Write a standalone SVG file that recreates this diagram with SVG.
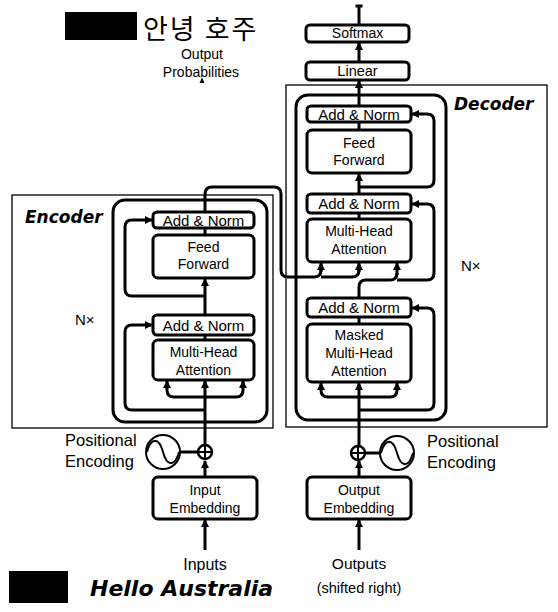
<svg xmlns="http://www.w3.org/2000/svg" width="558" height="612" viewBox="0 0 558 612">
<defs>
<marker id="ah" markerUnits="userSpaceOnUse" markerWidth="8" markerHeight="8" refX="7" refY="4" orient="auto">
<path d="M0,0 L8,4 L0,8 z" fill="#000"/>
</marker>
<style>
.box{fill:#fff;stroke:#000;stroke-width:3}
.frame{fill:none;stroke:#000;stroke-width:1.3}
.stack{fill:none;stroke:#000;stroke-width:3}
.ln{fill:none;stroke:#000;stroke-width:3}
.ar{fill:none;stroke:#000;stroke-width:3;marker-end:url(#ah)}
.t{font-family:"Liberation Sans",Arial,sans-serif;font-size:14px;text-anchor:middle;fill:#000}
.an{font-size:15px}
.lab{font-family:"Liberation Sans",Arial,sans-serif;font-size:16.5px;fill:#000}
.ttl{font-family:"DejaVu Sans",sans-serif;font-weight:bold;font-style:italic;font-size:17px;fill:#000}
.circ{fill:#fff;stroke:#000;stroke-width:2}
</style>
</defs>
<rect width="558" height="612" fill="#fff"/>

<g id="frames">
<rect class="frame" x="12" y="195" width="261" height="233"/>
<rect class="frame" x="286" y="85" width="261" height="342"/>
<rect class="stack" x="113" y="200" width="154" height="222" rx="12"/>
<rect class="stack" x="296" y="95" width="150" height="325" rx="12"/>
</g>

<g id="connectors">
<!-- encoder -->
<path class="ar" d="M205,550 V520"/>
<path class="ar" d="M205,477 V461"/>
<path class="ln" d="M180,452 H198"/>
<path class="ar" d="M205,445 V381"/>
<path class="ar" d="M205,397 H174 Q167,397 167,390 V381"/>
<path class="ar" d="M205,397 H236 Q243,397 243,390 V381"/>
<path class="ar" d="M205,410 H132 Q125,410 125,403 V332 Q125,325 132,325 H152"/>
<path class="ln" d="M205,340 V335"/>
<path class="ar" d="M205,315 V279"/>
<path class="ar" d="M205,296 H132 Q125,296 125,289 V227 Q125,220 132,220 H152"/>
<path class="ln" d="M205,235 V228"/>
<path class="ln" d="M205,212 V194 Q205,187 212,187 H274 Q281,187 281,194 V270 Q281,277 288,277 H314 Q321,277 321,270"/>
<path class="ar" d="M321,272 V263"/>
<path class="ln" d="M321,277 H352 Q359,277 359,270"/>
<path class="ar" d="M359,272 V263"/>
<!-- decoder -->
<path class="ar" d="M359,550 V520"/>
<path class="ar" d="M359,477 V461"/>
<path class="ln" d="M366,453 H380"/>
<path class="ar" d="M359,446 V383"/>
<path class="ar" d="M359,397 H328 Q321,397 321,390 V383"/>
<path class="ar" d="M359,397 H390 Q397,397 397,390 V383"/>
<path class="ar" d="M359,410 H427 Q434,410 434,403 V315 Q434,308 427,308 H412"/>
<path class="ln" d="M359,324 V317"/>
<path class="ln" d="M359,298 V287 Q359,280 366,280 H390 Q397,280 397,273"/>
<path class="ar" d="M397,275 V263"/>
<path class="ar" d="M397,280 H427 Q434,280 434,273 V211 Q434,204 427,204 H412"/>
<path class="ln" d="M359,219 V213"/>
<path class="ar" d="M359,194 V174"/>
<path class="ar" d="M359,187 H427 Q434,187 434,180 V121 Q434,114 427,114 H412"/>
<path class="ln" d="M359,130 V122"/>
<path class="ar" d="M359,106 V81"/>
<path class="ar" d="M359,62 V43"/>
<path class="ln" d="M359,25 V6"/>
<path class="ln" d="M355.5,6 H362.5"/>
<polygon points="199.5,83 202,77.5 204.5,83" fill="#000"/>
</g>

<g id="enc-add-norm-top">
<rect class="box" x="153" y="212" width="101" height="16" rx="4"/>
<text class="t an" x="203.5" y="226">Add &amp; Norm</text>
</g>
<g id="enc-feed-forward">
<rect class="box" x="153" y="235" width="101" height="43" rx="5"/>
<text class="t" x="203.5" y="252">Feed</text>
<text class="t" x="203.5" y="269">Forward</text>
</g>
<g id="enc-add-norm-bottom">
<rect class="box" x="153" y="315" width="101" height="20" rx="4"/>
<text class="t an" x="203.5" y="331">Add &amp; Norm</text>
</g>
<g id="enc-mha">
<rect class="box" x="153" y="340" width="101" height="40" rx="5"/>
<text class="t" x="203.5" y="357">Multi-Head</text>
<text class="t" x="203.5" y="375">Attention</text>
</g>
<g id="input-embedding">
<rect class="box" x="153" y="477" width="104" height="42" rx="5"/>
<text class="t" x="205" y="495">Input</text>
<text class="t" x="205" y="513">Embedding</text>
</g>
<g id="enc-pos">
<circle class="circ" cx="163" cy="452" r="17"/>
<path d="M147,452 C151,437 159,437 163,452 S175,467 179,452" fill="none" stroke="#000" stroke-width="2"/>
<circle cx="205" cy="452" r="7" fill="#fff" stroke="#000" stroke-width="2.5"/>
<path d="M205,446 V458 M199,452 H211" stroke="#000" stroke-width="2"/>
<text class="lab" x="65" y="446">Positional</text>
<text class="lab" x="65" y="467">Encoding</text>
</g>

<g id="softmax">
<rect class="box" x="306" y="25" width="103" height="17" rx="4"/>
<text class="t" x="357.5" y="38">Softmax</text>
</g>
<g id="linear">
<rect class="box" x="306" y="62" width="103" height="18" rx="4"/>
<text class="t" x="357.5" y="76" style="font-size:14.5px">Linear</text>
</g>
<g id="dec-add-norm-top">
<rect class="box" x="307" y="106" width="104" height="16" rx="4"/>
<text class="t an" x="359" y="120">Add &amp; Norm</text>
</g>
<g id="dec-feed-forward">
<rect class="box" x="307" y="130" width="104" height="43" rx="5"/>
<text class="t" x="359" y="148">Feed</text>
<text class="t" x="359" y="165">Forward</text>
</g>
<g id="dec-add-norm-mid">
<rect class="box" x="307" y="194" width="104" height="19" rx="4"/>
<text class="t an" x="359" y="209">Add &amp; Norm</text>
</g>
<g id="dec-mha">
<rect class="box" x="307" y="219" width="104" height="43" rx="5"/>
<text class="t" x="359" y="236">Multi-Head</text>
<text class="t" x="359" y="254">Attention</text>
</g>
<g id="dec-add-norm-bottom">
<rect class="box" x="307" y="298" width="104" height="19" rx="4"/>
<text class="t an" x="359" y="313">Add &amp; Norm</text>
</g>
<g id="dec-masked-mha">
<rect class="box" x="307" y="324" width="104" height="58" rx="5"/>
<text class="t" x="359" y="340">Masked</text>
<text class="t" x="359" y="358">Multi-Head</text>
<text class="t" x="359" y="376">Attention</text>
</g>
<g id="output-embedding">
<rect class="box" x="307" y="477" width="104" height="42" rx="5"/>
<text class="t" x="359" y="495">Output</text>
<text class="t" x="359" y="513">Embedding</text>
</g>
<g id="dec-pos">
<circle class="circ" cx="397" cy="453" r="17"/>
<path d="M381,453 C385,438 393,438 397,453 S409,468 413,453" fill="none" stroke="#000" stroke-width="2"/>
<circle cx="358" cy="453" r="7" fill="#fff" stroke="#000" stroke-width="2.5"/>
<path d="M358,447 V459 M352,453 H364" stroke="#000" stroke-width="2"/>
<text class="lab" x="427" y="447">Positional</text>
<text class="lab" x="427" y="468">Encoding</text>
</g>

<g id="labels">
<text class="ttl" x="25" y="223">Encoder</text>
<text class="ttl" x="454" y="110">Decoder</text>
<text class="lab" x="75" y="325" style="font-size:15px">N×</text>
<text class="lab" x="461" y="271" style="font-size:15px">N×</text>
<text class="t" x="202" y="59">Output</text>
<text class="t" x="201" y="77">Probabilities</text>
<text class="t" x="205" y="570" style="font-size:16px">Inputs</text>
<text class="t" x="359" y="569" style="font-size:15.5px">Outputs</text>
<text class="t" x="359" y="593" style="font-size:14.5px">(shifted right)</text>
</g>

<g id="header">
<rect x="65" y="12" width="72" height="28" fill="#000"/>
<text x="143" y="39" style="font-family:'Noto Sans CJK KR','Noto Sans CJK SC',sans-serif;font-size:27px;letter-spacing:2px" fill="#000">안녕 호주</text>
</g>
<g id="footer">
<rect x="9" y="571" width="59" height="32" fill="#000"/>
<text x="90" y="596" class="ttl" style="font-size:22px">Hello Australia</text>
</g>
</svg>
